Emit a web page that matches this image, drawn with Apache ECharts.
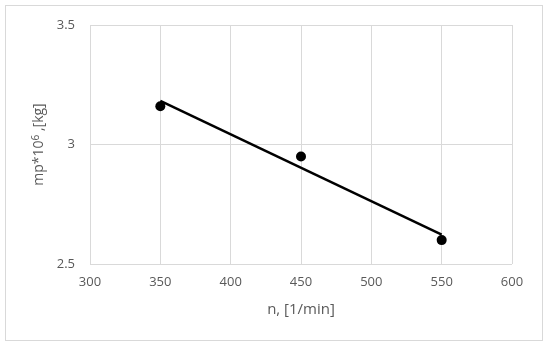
<!DOCTYPE html>
<html><head><meta charset="utf-8">
<script src="https://cdn.jsdelivr.net/npm/echarts@6/dist/echarts.min.js"></script>
<style>html,body{margin:0;padding:0;background:#fff}#c{width:550px;height:347px}
#frame{position:absolute;left:5px;top:5px;width:538px;height:336px;border:1px solid #d9d9d9;box-sizing:border-box;pointer-events:none}</style>
</head><body><div id="c"></div><div id="frame"></div>
<script>
const xValues = [350, 450, 550];
const yValues = [3.16, 2.95, 2.60];
const trendX = [350, 550];
const trendY = [3.183, 2.623];
const xTicks = [300, 350, 400, 450, 500, 550, 600];
const yTicks = [2.5, 3, 3.5];

const chart = echarts.init(document.getElementById('c'));
const font = 'Open Sans';
const grey = '#595959';
chart.setOption({
  animation: false,
  grid: {left: 90, right: 38, top: 25, bottom: 83},
  xAxis: {
    type: 'value', min: xTicks[0], max: xTicks[xTicks.length-1], interval: 50,
    name: 'n, [1/min]', nameLocation: 'middle', nameGap: 38,
    nameTextStyle: {fontFamily: font, fontSize: 15, color: grey},
    axisLine: {show: false}, axisTick: {show: false},
    axisLabel: {fontFamily: font, fontSize: 13, color: grey, margin: 12},
    splitLine: {show: true, lineStyle: {color: '#d9d9d9', width: 1}}
  },
  yAxis: {
    type: 'value', min: yTicks[0], max: yTicks[yTicks.length-1], interval: 0.5,
    name: '{a|mp*10}{b|6}{a| ,[kg]}', nameLocation: 'middle', nameGap: 41, nameRotate: 90,
    nameTextStyle: {fontFamily: font, fontSize: 14, color: grey,
      rich: {a: {fontFamily: font, fontSize: 14, color: grey},
             b: {fontFamily: font, fontSize: 10, color: grey, verticalAlign: 'top', padding: [0,0,6,0]}}},
    axisLine: {show: false}, axisTick: {show: false},
    axisLabel: {fontFamily: font, fontSize: 13, color: grey, margin: 15,
      formatter: v => String(v)},
    splitLine: {show: true, lineStyle: {color: '#d9d9d9', width: 1}}
  },
  series: [
    {type: 'line', data: trendX.map((x, i) => [x, trendY[i]]), symbol: 'none',
     lineStyle: {color: '#000', width: 2.5}, z: 2},
    {type: 'scatter', data: xValues.map((x, i) => [x, yValues[i]]), symbol: 'circle', symbolSize: 10,
     itemStyle: {color: '#000', opacity: 1}, z: 3}
  ]
});
</script></body></html>
